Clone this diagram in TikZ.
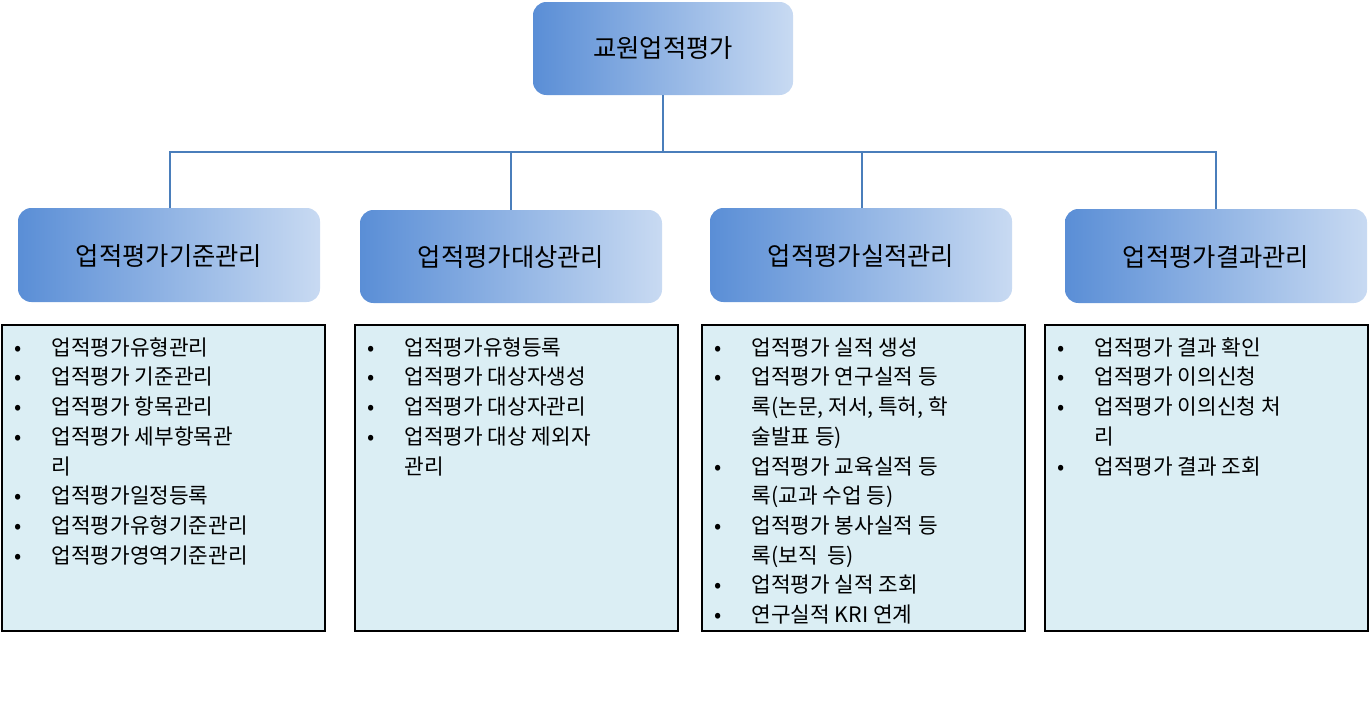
\documentclass[tikz,border=0pt]{standalone}
\usepackage{fontspec}
\setmainfont{Noto Sans CJK KR}
\usepackage{array}
\definecolor{gl}{HTML}{5A8ED6}
\definecolor{gr}{HTML}{C8DAF2}
\definecolor{lb}{HTML}{DBEEF4}
\definecolor{ln}{HTML}{4A7EBB}
\begin{document}
\begin{tikzpicture}[x=0.75pt,y=-0.75pt,
  head/.style={rounded corners=10pt,left color=gl,right color=gr,draw=none},
  ht/.style={font=\fontsize{19}{22}\selectfont},
  listbox/.style={draw=black,line width=1pt,fill=lb},
  lst/.style={anchor=north west,inner sep=0pt,align=left,font=\fontsize{16}{22.3}\selectfont},
  con/.style={draw=ln,line width=1pt}]
\useasboundingbox (0,0) rectangle (1370,718);
\path[head] (533,2) rectangle (793,95);
\node[ht] (top) at (663,48) {교원업적평가};
\path[head] (18,208) rectangle (320,302);
\node[ht] (h1) at (169,256) {업적평가기준관리};
\path[head] (360,210) rectangle (662,303);
\node[ht] (h2) at (511,257) {업적평가대상관리};
\path[head] (710,208) rectangle (1012,302);
\node[ht] (h3) at (861,256) {업적평가실적관리};
\path[head] (1065,209) rectangle (1367,303);
\node[ht] (h4) at (1216,257) {업적평가결과관리};
\coordinate (tb) at (663,95);
\coordinate (j) at (663,152);
\draw[con] (tb) -- (j);
\draw[con] (170,208) -- (170,152) -- (1216,152) -- (1216,209);
\draw[con] (511,152) -- (511,210);
\draw[con] (862,152) -- (862,208);
\draw[listbox] (2,325) rectangle (325,631);
\draw[listbox] (355,325) rectangle (678,631);
\draw[listbox] (702,325) rectangle (1025,631);
\draw[listbox] (1045,325) rectangle (1368,631);
\node[lst] (l1) at (14,334) {\begin{tabular}{@{}p{28pt}@{}l@{}}
•&업적평가유형관리\\ •&업적평가 기준관리\\ •&업적평가 항목관리\\ •&업적평가 세부항목관\\ &리\\ •&업적평가일정등록\\ •&업적평가유형기준관리\\ •&업적평가영역기준관리\end{tabular}};
\node[lst] (l2) at (367,334) {\begin{tabular}{@{}p{28pt}@{}l@{}}
•&업적평가유형등록\\ •&업적평가 대상자생성\\ •&업적평가 대상자관리\\ •&업적평가 대상 제외자\\ &관리\end{tabular}};
\node[lst] (l3) at (714,334) {\begin{tabular}{@{}p{28pt}@{}l@{}}
•&업적평가 실적 생성\\ •&업적평가 연구실적 등\\ &록(논문, 저서, 특허, 학\\ &술발표 등)\\ •&업적평가 교육실적 등\\ &록(교과 수업 등)\\ •&업적평가 봉사실적 등\\ &록(보직 \ 등)\\ •&업적평가 실적 조회\\ •&연구실적 KRI 연계\end{tabular}};
\node[lst] (l4) at (1057,334) {\begin{tabular}{@{}p{28pt}@{}l@{}}
•&업적평가 결과 확인\\ •&업적평가 이의신청\\ •&업적평가 이의신청 처\\ &리\\ •&업적평가 결과 조회\end{tabular}};
\end{tikzpicture}
\end{document}
